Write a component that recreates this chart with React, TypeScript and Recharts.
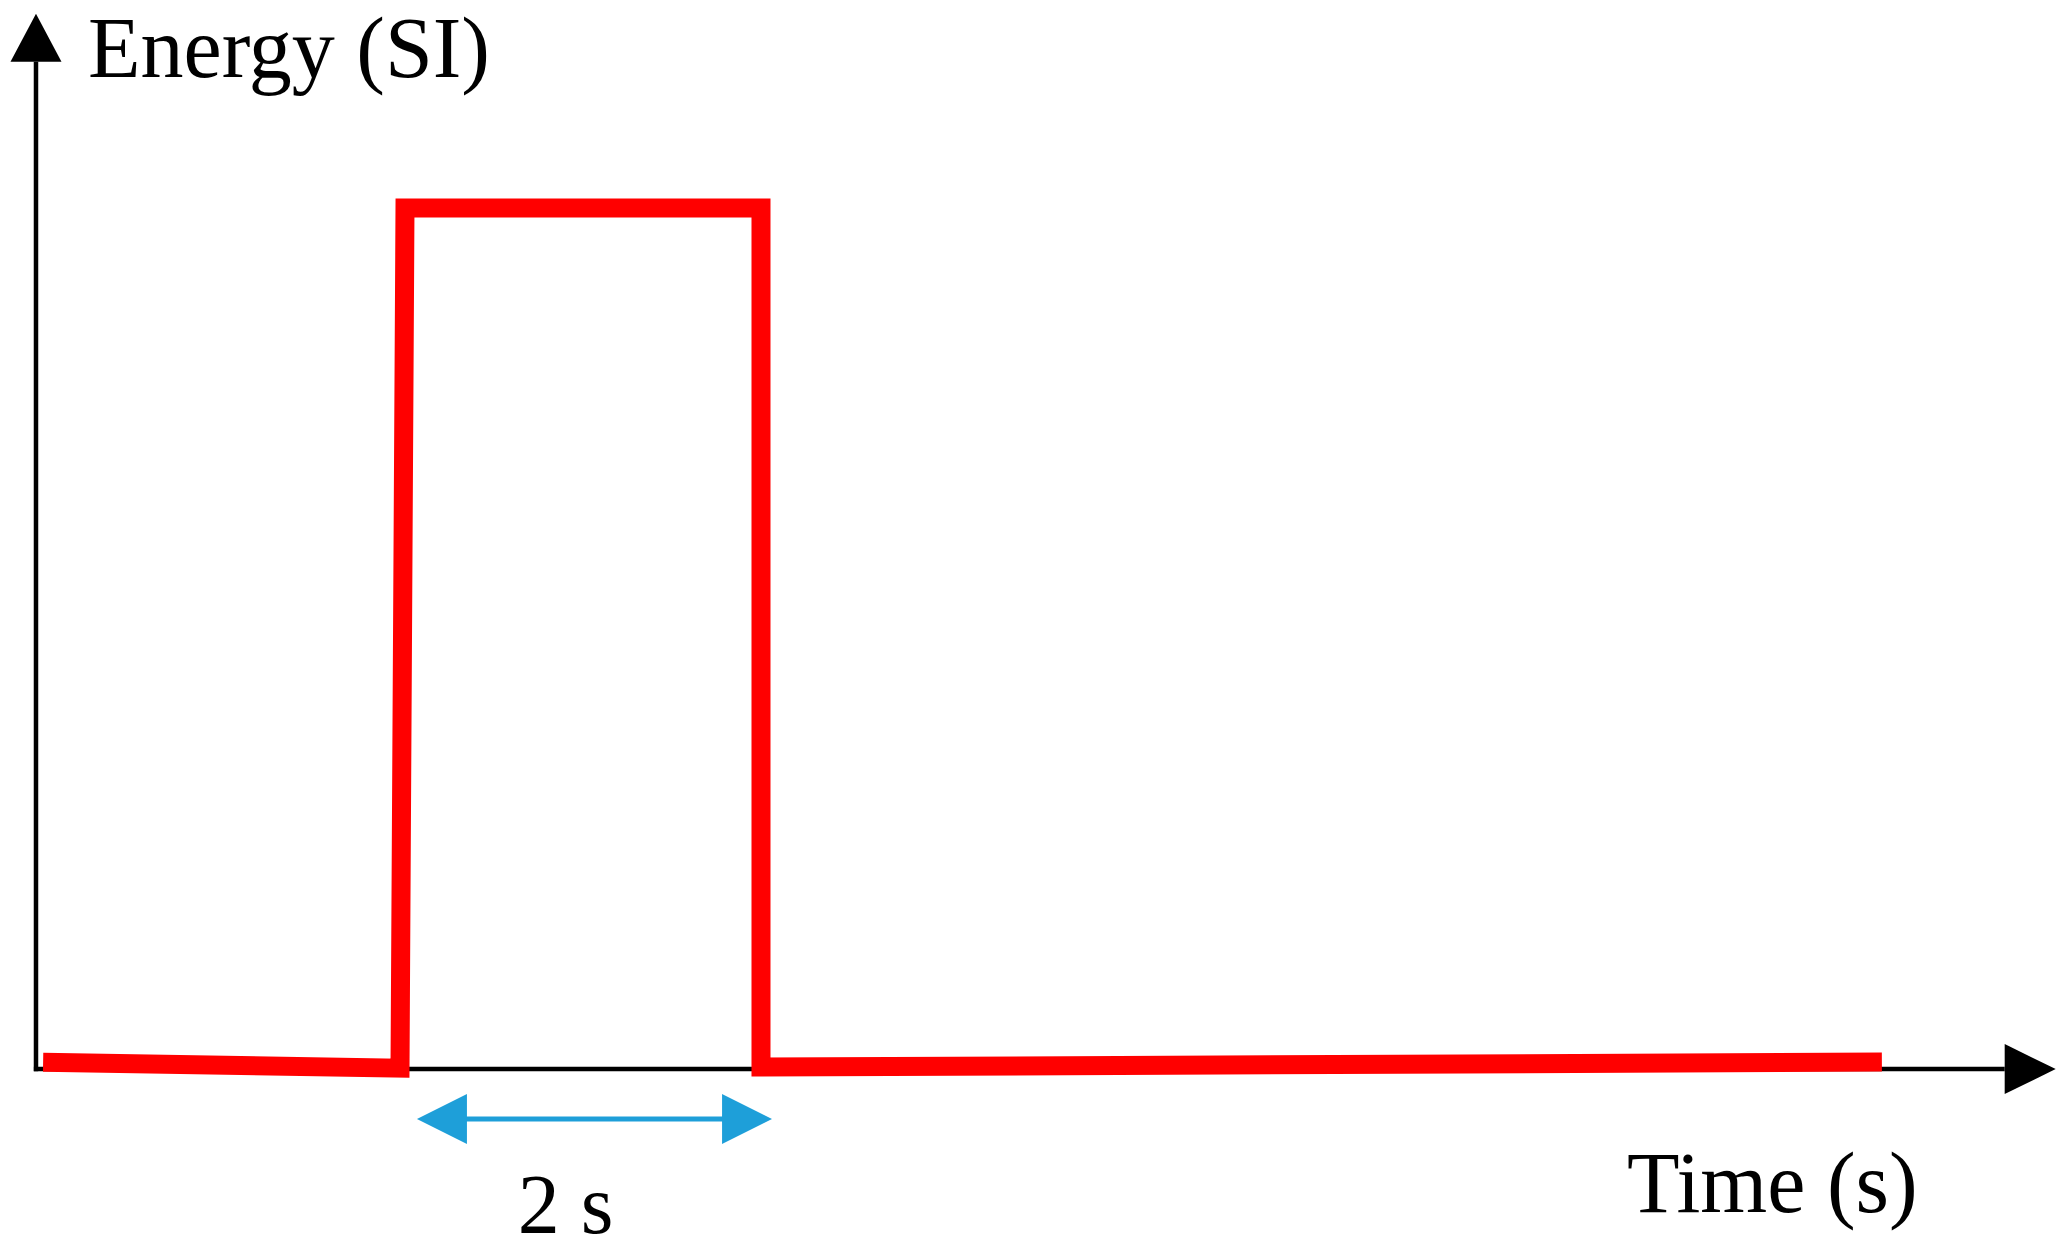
import React from "react";
import { LineChart, Line, XAxis, YAxis, ReferenceLine, ReferenceDot } from "recharts";

// Time in seconds, energy in units of the pulse height (SI)
const timeValues = [0.04, 2.045, 2.073, 4.073, 4.073, 10.37];
const energyValues = [0.008, 0.001, 1.0, 1.0, 0.0023, 0.0081];

const timeDomain: [number, number] = [-0.2022, 11.41];
const energyDomain: [number, number] = [-0.2125, 1.2416];

const yAxisTop = 1.17;
const xAxisEnd = 11.06;
const spanArrowStart = 2.14;
const spanArrowEnd = 4.135;
const spanArrowLevel = -0.058;

const yLabel = "Energy (SI)";
const xLabel = "Time (s)";
const spanLabel = "2 s";

const data = timeValues.map((t, i) => ({ t, e: energyValues[i] }));

const FONT = "'Liberation Serif', 'Times New Roman', serif";
const BLUE = "#1E9FD9";

const UpArrow = (p: any) => (
  <polygon points={`${p.cx - 25.5},${p.cy} ${p.cx + 25.5},${p.cy} ${p.cx},${p.cy - 48}`} fill="#000" />
);
const RightArrow = (p: any) => (
  <polygon points={`${p.cx},${p.cy - 25} ${p.cx},${p.cy + 25} ${p.cx + 51},${p.cy}`} fill="#000" />
);
const BlueLeft = (p: any) => (
  <polygon points={`${p.cx},${p.cy} ${p.cx + 50},${p.cy - 25} ${p.cx + 50},${p.cy + 25}`} fill={BLUE} />
);
const BlueRight = (p: any) => (
  <polygon points={`${p.cx},${p.cy} ${p.cx - 50},${p.cy - 25} ${p.cx - 50},${p.cy + 25}`} fill={BLUE} />
);
const makeText = (text: string, anchor: "start" | "middle", size: number) => (p: any) => (
  <text x={p.cx} y={p.cy} fontFamily={FONT} fontSize={size} fill="#000" textAnchor={anchor}>
    {text}
  </text>
);

export default function App() {
  return (
    <div style={{ position: "absolute", left: 0, top: 0, width: 2067, height: 1252, background: "#fff" }}>
      <LineChart width={2067} height={1252} data={data} margin={{ top: 0, right: 0, bottom: 0, left: 0 }}>
        <XAxis type="number" dataKey="t" domain={timeDomain} allowDataOverflow hide />
        <YAxis type="number" domain={energyDomain} allowDataOverflow hide />
        {/* axes */}
        <ReferenceLine
          segment={[{ x: 0, y: -0.0026 }, { x: 0, y: yAxisTop }]}
          stroke="#000"
          strokeWidth={4.5}
          ifOverflow="visible"
        />
        <ReferenceLine
          segment={[{ x: -0.012, y: 0 }, { x: xAxisEnd, y: 0 }]}
          stroke="#000"
          strokeWidth={4.5}
          ifOverflow="visible"
        />
        <ReferenceDot x={0} y={yAxisTop} shape={UpArrow} ifOverflow="visible" />
        <ReferenceDot x={xAxisEnd} y={0} shape={RightArrow} ifOverflow="visible" />
        {/* pulse */}
        <Line
          type="linear"
          dataKey="e"
          stroke="#FF0000"
          strokeWidth={19}
          strokeLinejoin="miter"
          strokeLinecap="butt"
          dot={false}
          activeDot={false}
          isAnimationActive={false}
        />
        {/* 2 s span arrow */}
        <ReferenceLine
          segment={[{ x: spanArrowStart + 0.2, y: spanArrowLevel }, { x: spanArrowEnd - 0.2, y: spanArrowLevel }]}
          stroke={BLUE}
          strokeWidth={5}
          ifOverflow="visible"
        />
        <ReferenceDot x={spanArrowStart} y={spanArrowLevel} shape={BlueLeft} ifOverflow="visible" />
        <ReferenceDot x={spanArrowEnd} y={spanArrowLevel} shape={BlueRight} ifOverflow="visible" />
        {/* labels */}
        <ReferenceDot x={0.292} y={1.152} shape={makeText(yLabel, "start", 86)} ifOverflow="visible" />
        <ReferenceDot x={8.938} y={-0.166} shape={makeText(xLabel, "start", 86)} ifOverflow="visible" />
        <ReferenceDot x={2.975} y={-0.1905} shape={makeText(spanLabel, "middle", 84)} ifOverflow="visible" />
      </LineChart>
    </div>
  );
}
